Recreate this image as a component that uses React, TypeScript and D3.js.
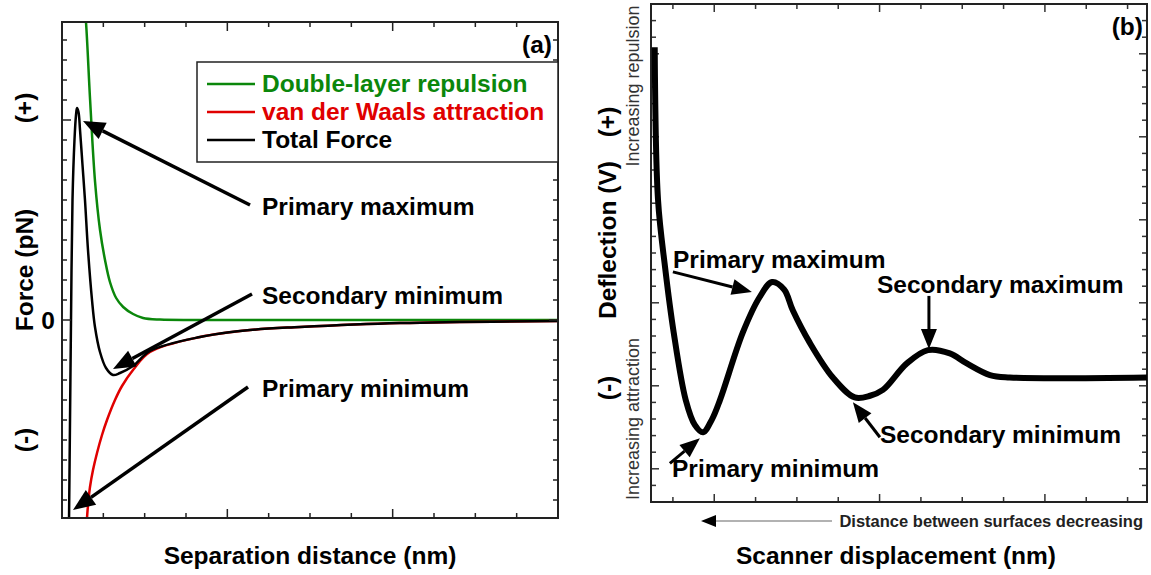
import React from "react";
import * as d3 from "d3";

// ---- panel (a): DLVO forces vs separation (arbitrary units)
const doubleLayerX = [0.53, 0.58, 0.68, 0.8, 0.92, 1.05, 1.16, 1.31, 1.48, 1.72, 1.96, 2.37, 3.34, 12];
const doubleLayerF = [16, 14.9, 11, 6.9, 4.5, 2.9, 1.9, 1.1, 0.65, 0.3, 0.1, 0.02, 0, 0];

const vdwX = [0.593, 0.605, 0.641, 0.677, 0.75, 0.847, 0.968, 1.089, 1.282, 1.452, 1.718, 2.129, 3.339, 4.549, 5.759, 8.178, 12];
const vdwF = [-10.5, -9.9, -9.0, -8.35, -7.5, -6.65, -5.75, -5.0, -4.0, -3.3, -2.5, -1.6, -0.85, -0.5, -0.35, -0.15, -0.05];

const totalX = [0.169, 0.194, 0.218, 0.254, 0.302, 0.339, 0.363, 0.399, 0.436, 0.496, 0.556, 0.629, 0.726, 0.798, 0.919, 1.065, 1.234, 1.403, 1.718, 2.129, 3.339, 4.549, 5.759, 8.178, 12];
const totalF = [-10.25, -5.0, 0, 6, 9, 10.25, 10.6, 10.4, 9.5, 7.75, 6.0, 3.5, 1.0, -0.35, -1.6, -2.4, -2.75, -2.65, -2.3, -1.55, -0.85, -0.5, -0.35, -0.15, -0.05];

const legendLabels = ["Double-layer repulsion", "van der Waals attraction", "Total Force"];
const legendColors = ["#0b870b", "#e00000", "#000000"];

const aXTicks = d3.range(1, 12);
const aYTicks = d3.range(-9, 15);

// annotation arrows of (a): [tailX, tailF, tipX, tipF]
const aNotes = ["Primary maximum", "Secondary minimum", "Primary minimum"];
const aArrows = [
  [4.549, 5.75, 0.508, 9.95],
  [4.597, 1.3, 1.234, -2.45],
  [4.5, -3.35, 0.266, -9.5],
];

// ---- panel (b): AFM deflection vs scanner displacement
const scanX = [-0.44, -0.36, -0.19, 0.02, 0.31, 0.53, 0.73, 0.94, 1.14, 1.69, 2.1, 2.4, 2.69, 2.9, 3.31, 3.87, 4.4, 4.77, 5.08, 5.66, 6.17, 6.7, 7.11, 7.67, 8.15, 11.47];
const deflection = [3.48, 1.64, 0.83, 0.04, -0.77, -1.07, -1.16, -1.01, -0.77, 0.04, 0.47, 0.65, 0.56, 0.31, -0.08, -0.5, -0.74, -0.72, -0.65, -0.33, -0.17, -0.21, -0.33, -0.47, -0.5, -0.5];

const bXTicks = d3.range(0, 12);
const bYTicks = d3.range(-9, 20).map((k) => k / 5);

const bNotes = ["Primary maximum", "Secondary maximum", "Secondary minimum", "Primary minimum"];
const bArrows = [
  [0, 0.773, 1.911, 0.531],
  [6.194, 0.483, 6.194, -0.157],
  [5.008, -1.22, 4.355, -0.797],
  [-0.073, -1.534, 0.653, -1.232],
];

const FONT = "'Liberation Sans', Arial, sans-serif";
const FS = 24.5;

function Arrow({ x1, y1, x2, y2, len = 22, half = 9, w = 3.5, color = "#000" }) {
  const ang = Math.atan2(y2 - y1, x2 - x1);
  const bx = x2 - len * Math.cos(ang);
  const by = y2 - len * Math.sin(ang);
  const px = -Math.sin(ang) * half;
  const py = Math.cos(ang) * half;
  return (
    <g>
      <line x1={x1} y1={y1} x2={bx} y2={by} stroke={color} strokeWidth={w} />
      <polygon points={`${x2},${y2} ${bx + px},${by + py} ${bx - px},${by - py}`} fill={color} />
    </g>
  );
}

function PanelA() {
  const L = 62, R = 558, T = 22, B = 518;
  const x = d3.scaleLinear().domain([0, 12]).range([L, R]);
  const y = d3.scaleLinear().domain([-9.9, 14.9]).range([B, T]);
  const line = (xs: number[], ys: number[]) =>
    d3.line<number>().x((d, i) => x(xs[i])).y((d) => y(d)).curve(d3.curveCatmullRom.alpha(0.5))(ys) as string;

  return (
    <g fontFamily={FONT} fontWeight="bold">
      <defs>
        <clipPath id="clipA">
          <rect x={L} y={T} width={R - L} height={B - T} />
        </clipPath>
      </defs>
      <g clipPath="url(#clipA)" fill="none">
        <path d={line(doubleLayerX, doubleLayerF)} stroke={legendColors[0]} strokeWidth={2.5} />
        <path d={line(vdwX, vdwF)} stroke={legendColors[1]} strokeWidth={2.5} />
        <path d={line(totalX, totalF)} stroke={legendColors[2]} strokeWidth={2.5} />
      </g>
      {/* ticks, all four sides, pointing inward */}
      <g stroke="#222" strokeWidth={1.5}>
        {aXTicks.map((t) => {
          const len = t % 4 === 0 ? 9 : 5;
          return (
            <g key={"ax" + t}>
              <line x1={x(t)} x2={x(t)} y1={B} y2={B - len} />
              <line x1={x(t)} x2={x(t)} y1={T} y2={T + len} />
            </g>
          );
        })}
        {aYTicks.map((t) => {
          const len = t % 10 === 0 ? 9 : 5;
          return (
            <g key={"ay" + t}>
              <line x1={L} x2={L + len} y1={y(t)} y2={y(t)} />
              <line x1={R} x2={R - len} y1={y(t)} y2={y(t)} />
            </g>
          );
        })}
      </g>
      <rect x={L} y={T} width={R - L} height={B - T} fill="none" stroke="#222" strokeWidth={2} />
      {/* legend */}
      <rect x={197} y={62} width={R - 197} height={100} fill="#fff" stroke="#222" strokeWidth={1.5} />
      {legendLabels.map((lab, i) => (
        <g key={lab}>
          <line x1={207} x2={255} y1={84 + i * 28} y2={84 + i * 28} stroke={legendColors[i]} strokeWidth={2.5} />
          <text x={262} y={92 + i * 28} fontSize={FS} fill={legendColors[i]}>
            {lab}
          </text>
        </g>
      ))}
      <text x={552} y={53} fontSize={FS} textAnchor="end">(a)</text>
      {/* annotations */}
      {aArrows.map((a, i) => (
        <g key={"aa" + i}>
          <Arrow x1={x(a[0])} y1={y(a[1])} x2={x(a[2])} y2={y(a[3])} />
          <text x={262} y={y(a[1]) + 10} fontSize={FS}>{aNotes[i]}</text>
        </g>
      ))}
      {/* axis labels */}
      <text x={55} y={y(0) + 9} fontSize={FS} textAnchor="end">0</text>
      <text transform={`translate(33,${y(10.6)}) rotate(-90)`} fontSize={FS} textAnchor="middle">(+)</text>
      <text transform={`translate(33,${y(-6)}) rotate(-90)`} fontSize={FS} textAnchor="middle">(-)</text>
      <text transform={`translate(33,270) rotate(-90)`} fontSize={FS} textAnchor="middle">Force (pN)</text>
      <text x={310} y={564} fontSize={FS} textAnchor="middle">Separation distance (nm)</text>
    </g>
  );
}

function PanelB() {
  const L = 651, R = 1147, T = 4, B = 502;
  const x = d3.scaleLinear().domain([-0.53, 11.47]).range([L, R]);
  const y = d3.scaleLinear().domain([-2, 4]).range([B, T]);
  const curve = d3
    .line<number>()
    .x((d, i) => x(scanX[i]))
    .y((d) => y(d))
    .curve(d3.curveCatmullRom.alpha(0.5))(deflection) as string;

  return (
    <g fontFamily={FONT} fontWeight="bold">
      <g stroke="#333" strokeWidth={1.5}>
        {bXTicks.map((t) => {
          const len = (t - 1) % 4 === 0 ? 8 : 5;
          return (
            <g key={"bx" + t}>
              <line x1={x(t)} x2={x(t)} y1={B} y2={B - len} />
              <line x1={x(t)} x2={x(t)} y1={T} y2={T + len} />
            </g>
          );
        })}
        {bYTicks.map((t, i) => {
          const len = i % 5 === 1 ? 8 : 5;
          return (
            <g key={"by" + i}>
              <line x1={L} x2={L + len} y1={y(t)} y2={y(t)} />
              <line x1={R} x2={R - len} y1={y(t)} y2={y(t)} />
            </g>
          );
        })}
      </g>
      <rect x={L} y={T} width={R - L} height={B - T} fill="none" stroke="#222" strokeWidth={2} />
      <path d={curve} fill="none" stroke="#000" strokeWidth={6} strokeLinejoin="round" />
      <text x={1143} y={35} fontSize={FS} textAnchor="end">(b)</text>
      {bArrows.map((a, i) => (
        <Arrow key={"ba" + i} x1={x(a[0])} y1={y(a[1])} x2={x(a[2])} y2={y(a[3])} len={20} half={8} w={3} />
      ))}
      <text x={673} y={268} fontSize={FS}>{bNotes[0]}</text>
      <text x={877} y={293} fontSize={FS}>{bNotes[1]}</text>
      <text x={880} y={443} fontSize={FS}>{bNotes[2]}</text>
      <text x={672} y={477} fontSize={FS}>{bNotes[3]}</text>
      {/* y side labels */}
      <text transform={`translate(616,240) rotate(-90)`} fontSize={FS} textAnchor="middle">Deflection (V)</text>
      <text transform={`translate(616,122) rotate(-90)`} fontSize={FS} textAnchor="middle">(+)</text>
      <text transform={`translate(616,388) rotate(-90)`} fontSize={FS} textAnchor="middle">(-)</text>
      <text transform={`translate(639,86) rotate(-90)`} fontSize={18} fontWeight="normal" fill="#333" textAnchor="middle">Increasing repulsion</text>
      <text transform={`translate(639,419) rotate(-90)`} fontSize={18} fontWeight="normal" fill="#333" textAnchor="middle">Increasing attraction</text>
      {/* bottom labels */}
      <line x1={714} x2={832} y1={521} y2={521} stroke="#999" strokeWidth={1.5} />
      <polygon points="701,521 716,515 716,527" fill="#000" />
      <text x={1143} y={527} fontSize={16.5} textAnchor="end" fill="#222">Distance between surfaces decreasing</text>
      <text x={896} y={564} fontSize={FS} textAnchor="middle">Scanner displacement (nm)</text>
    </g>
  );
}

export default function App() {
  return (
    <div style={{ position: "absolute", left: 0, top: 0 }}>
      <svg width={1151} height={575} style={{ display: "block", background: "#fff" }}>
        <PanelA />
        <PanelB />
      </svg>
    </div>
  );
}
